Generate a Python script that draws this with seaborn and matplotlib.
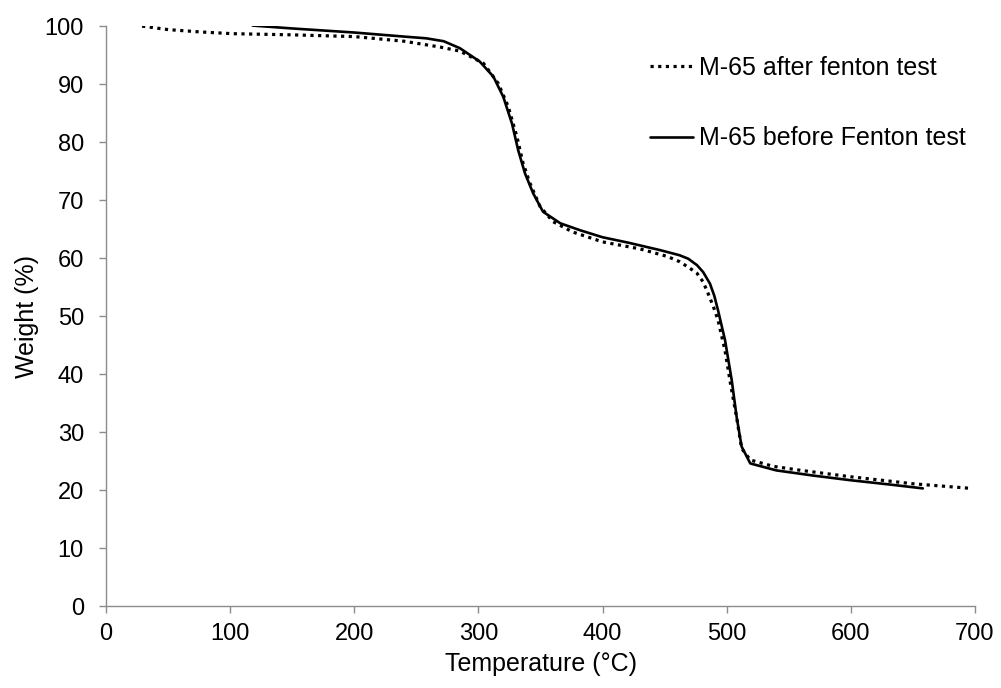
import numpy as np
import pandas as pd
import matplotlib
matplotlib.use("Agg")
import matplotlib.pyplot as plt
import seaborn as sns

# TGA curves (temperature in degC, weight in %)
after_temp = [29, 50, 76, 102, 150, 200, 240, 269, 285, 304, 316, 324, 331, 336,
              341.5, 349.6, 360, 376, 400, 430, 452, 462, 470, 476, 481, 485, 489, 493,
              498.6, 503, 508, 512, 519, 537.5, 560, 600, 650, 697]
after_weight = [100, 99.4, 99.0, 98.7, 98.5, 98.2, 97.4, 96.4, 95.7, 93.6, 90.1, 86.1,
                80.9, 76.3, 72.9, 68.9, 66.3, 64.5, 62.8, 61.6, 60.3, 59.4, 58.3, 57.4,
                55.9, 53.9, 51.8, 49.3, 44.1, 38.4, 32.5, 27.2, 25.2, 24.1, 23.4, 22.3,
                21.1, 20.3]

before_temp = [118, 150, 200, 240, 258, 272, 285, 301, 312, 320, 327, 332, 337.5, 344,
               352, 366, 382, 400, 420, 446, 462, 469, 476, 481, 486.5, 490, 493, 498.6,
               504, 508, 512, 519, 540, 570, 600, 630, 658]
before_weight = [100.1, 99.6, 98.9, 98.2, 97.9, 97.4, 96.2, 93.9, 91.3, 87.8, 83.2, 78.6,
                 74.6, 71.2, 68.0, 66.0, 64.8, 63.6, 62.7, 61.4, 60.5, 59.9, 58.8, 57.6,
                 55.6, 53.5, 51.0, 45.9, 39.0, 32.6, 27.5, 24.6, 23.4, 22.5, 21.7, 21.0,
                 20.3]

labels = ["M-65 after fenton test", "M-65 before Fenton test"]
x_ticks = [0, 100, 200, 300, 400, 500, 600, 700]
y_ticks = [0, 10, 20, 30, 40, 50, 60, 70, 80, 90, 100]

sns.set_style("white")
plt.rcParams['font.family'] = ['Liberation Sans', 'DejaVu Sans']
plt.rcParams['text.color'] = 'black'
plt.rcParams['axes.labelcolor'] = 'black'
plt.rcParams['xtick.labelcolor'] = 'black'
plt.rcParams['ytick.labelcolor'] = 'black'

fig = plt.figure(figsize=(10.01, 6.88), dpi=100)
ax = fig.add_axes([0.106, 0.119, 0.868, 0.843])

after_df = pd.DataFrame({"temp": after_temp, "weight": after_weight})
before_df = pd.DataFrame({"temp": before_temp, "weight": before_weight})

sns.lineplot(data=after_df, x="temp", y="weight", ax=ax, color="black",
             linestyle=(0, (1, 1.4)), linewidth=2.3, label=labels[0],
             estimator=None, sort=False)
sns.lineplot(data=before_df, x="temp", y="weight", ax=ax, color="black",
             linewidth=1.9, label=labels[1], estimator=None, sort=False)

ax.set_xlim(0, 700)
ax.set_ylim(0, 100)
ax.set_xticks(x_ticks)
ax.set_yticks(y_ticks)
ax.set_xlabel("Temperature (°C)", fontsize=18, labelpad=5)
ax.set_ylabel("Weight (%)", fontsize=18, labelpad=4)
ax.tick_params(axis="both", labelsize=17, direction="out", length=5,
               color="#8c8c8c", width=1, bottom=True, left=True)
ax.tick_params(axis="y", pad=11)
ax.tick_params(axis="x", pad=7)

for side in ["top", "right"]:
    ax.spines[side].set_visible(False)
for side in ["left", "bottom"]:
    ax.spines[side].set_color("#8c8c8c")
    ax.spines[side].set_linewidth(1)

ax.legend(loc="upper left", bbox_to_anchor=(650 / 1001, 1 - 56 / 688),
          bbox_transform=fig.transFigure, frameon=False, fontsize=18,
          handlelength=1.7, handletextpad=0.25, labelspacing=1.85,
          borderpad=0, borderaxespad=0)

fig.savefig("out.png", dpi=100)
